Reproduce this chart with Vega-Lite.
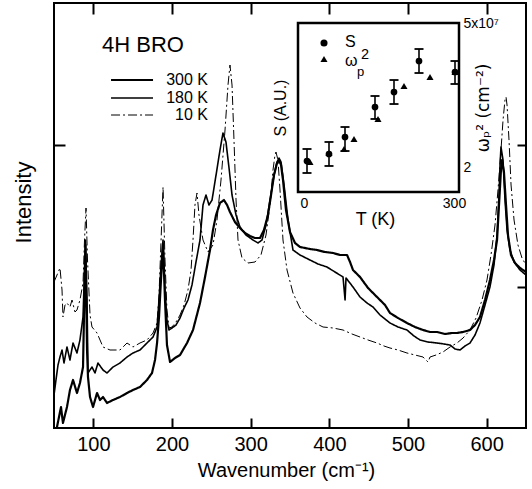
{
  "$schema": "https://vega.github.io/schema/vega-lite/v6.json",
  "width": 472,
  "height": 425,
  "autosize": {"type": "none"},
  "padding": {"left": 54, "top": 3, "right": 6, "bottom": 61},
  "background": "white",
  "config": {
    "view": {"stroke": "black", "strokeWidth": 2},
    "axis": {"domain": false, "grid": false, "tickColor": "black", "labelColor": "black", "titleColor": "black", "labelFont": "Liberation Sans", "titleFont": "Liberation Sans", "titleFontWeight": "normal", "labelOverlap": false, "labelFlush": false},
    "text": {"font": "Liberation Sans", "color": "black"}
  },
  "datasets": {
    "spectra": [
      {"series": "300 K", "w": 50, "I": -17}, {"series": "300 K", "w": 53.8, "I": 1}, {"series": "300 K", "w": 58.9, "I": 21}, {"series": "300 K", "w": 61.4, "I": 5}, {"series": "300 K", "w": 66.5, "I": 21}, {"series": "300 K", "w": 70.3, "I": 38}, {"series": "300 K", "w": 74.2, "I": 48}, {"series": "300 K", "w": 79.2, "I": 35}, {"series": "300 K", "w": 83, "I": 45}, {"series": "300 K", "w": 86.9, "I": 61}, {"series": "300 K", "w": 88.1, "I": 111}, {"series": "300 K", "w": 90, "I": 183}, {"series": "300 K", "w": 92, "I": 78}, {"series": "300 K", "w": 93.2, "I": 51}, {"series": "300 K", "w": 95.8, "I": 31}, {"series": "300 K", "w": 99.6, "I": 21}, {"series": "300 K", "w": 104.7, "I": 35}, {"series": "300 K", "w": 108.5, "I": 28}, {"series": "300 K", "w": 112.3, "I": 31}, {"series": "300 K", "w": 117.4, "I": 25}, {"series": "300 K", "w": 125, "I": 28}, {"series": "300 K", "w": 133.9, "I": 31}, {"series": "300 K", "w": 142.8, "I": 35}, {"series": "300 K", "w": 150.4, "I": 38}, {"series": "300 K", "w": 159.3, "I": 41}, {"series": "300 K", "w": 168.2, "I": 48}, {"series": "300 K", "w": 174.6, "I": 55}, {"series": "300 K", "w": 178.4, "I": 68}, {"series": "300 K", "w": 181, "I": 85}, {"series": "300 K", "w": 183.5, "I": 111}, {"series": "300 K", "w": 186, "I": 148}, {"series": "300 K", "w": 188.6, "I": 183}, {"series": "300 K", "w": 191.1, "I": 128}, {"series": "300 K", "w": 193.6, "I": 83}, {"series": "300 K", "w": 197.5, "I": 66}, {"series": "300 K", "w": 203.8, "I": 70}, {"series": "300 K", "w": 210.2, "I": 73}, {"series": "300 K", "w": 219.1, "I": 85}, {"series": "300 K", "w": 226.7, "I": 98}, {"series": "300 K", "w": 235.6, "I": 125}, {"series": "300 K", "w": 242, "I": 151}, {"series": "300 K", "w": 248.3, "I": 178}, {"series": "300 K", "w": 252.1, "I": 198}, {"series": "300 K", "w": 256, "I": 213}, {"series": "300 K", "w": 261, "I": 225}, {"series": "300 K", "w": 266, "I": 228}, {"series": "300 K", "w": 270, "I": 223}, {"series": "300 K", "w": 273.7, "I": 216}, {"series": "300 K", "w": 280, "I": 206}, {"series": "300 K", "w": 286.4, "I": 200}, {"series": "300 K", "w": 292.8, "I": 195}, {"series": "300 K", "w": 299.1, "I": 192}, {"series": "300 K", "w": 305.5, "I": 190}, {"series": "300 K", "w": 311.9, "I": 190}, {"series": "300 K", "w": 316.9, "I": 198}, {"series": "300 K", "w": 322, "I": 213}, {"series": "300 K", "w": 325.9, "I": 233}, {"series": "300 K", "w": 329.7, "I": 253}, {"series": "300 K", "w": 333.5, "I": 265}, {"series": "300 K", "w": 336, "I": 268}, {"series": "300 K", "w": 338.6, "I": 263}, {"series": "300 K", "w": 341.1, "I": 248}, {"series": "300 K", "w": 344.9, "I": 218}, {"series": "300 K", "w": 350, "I": 196}, {"series": "300 K", "w": 356.4, "I": 185}, {"series": "300 K", "w": 362.7, "I": 181}, {"series": "300 K", "w": 375.4, "I": 179}, {"series": "300 K", "w": 384.3, "I": 178}, {"series": "300 K", "w": 394.5, "I": 176}, {"series": "300 K", "w": 404.7, "I": 175}, {"series": "300 K", "w": 413.6, "I": 173}, {"series": "300 K", "w": 422.5, "I": 173}, {"series": "300 K", "w": 426.3, "I": 166}, {"series": "300 K", "w": 430.1, "I": 158}, {"series": "300 K", "w": 439, "I": 151}, {"series": "300 K", "w": 449.2, "I": 140}, {"series": "300 K", "w": 460.6, "I": 131}, {"series": "300 K", "w": 470.8, "I": 123}, {"series": "300 K", "w": 477.1, "I": 115}, {"series": "300 K", "w": 487.3, "I": 110}, {"series": "300 K", "w": 498.7, "I": 105}, {"series": "300 K", "w": 508.9, "I": 101}, {"series": "300 K", "w": 519.1, "I": 98}, {"series": "300 K", "w": 528, "I": 96}, {"series": "300 K", "w": 536.9, "I": 96}, {"series": "300 K", "w": 547, "I": 94}, {"series": "300 K", "w": 555.9, "I": 95}, {"series": "300 K", "w": 562.3, "I": 95}, {"series": "300 K", "w": 570, "I": 96}, {"series": "300 K", "w": 578.8, "I": 98}, {"series": "300 K", "w": 585.2, "I": 103}, {"series": "300 K", "w": 591.5, "I": 111}, {"series": "300 K", "w": 597.9, "I": 128}, {"series": "300 K", "w": 604.2, "I": 148}, {"series": "300 K", "w": 609.3, "I": 168}, {"series": "300 K", "w": 613.2, "I": 188}, {"series": "300 K", "w": 615.7, "I": 223}, {"series": "300 K", "w": 618.2, "I": 258}, {"series": "300 K", "w": 619.5, "I": 268}, {"series": "300 K", "w": 622, "I": 256}, {"series": "300 K", "w": 624.6, "I": 223}, {"series": "300 K", "w": 627.1, "I": 193}, {"series": "300 K", "w": 630.9, "I": 173}, {"series": "300 K", "w": 636, "I": 165}, {"series": "300 K", "w": 642.4, "I": 160}, {"series": "300 K", "w": 650, "I": 156},

      {"series": "180 K", "w": 50, "I": 33}, {"series": "180 K", "w": 52.5, "I": 48}, {"series": "180 K", "w": 55.1, "I": 63}, {"series": "180 K", "w": 57.6, "I": 71}, {"series": "180 K", "w": 60.2, "I": 78}, {"series": "180 K", "w": 62.7, "I": 65}, {"series": "180 K", "w": 66.5, "I": 81}, {"series": "180 K", "w": 70.3, "I": 68}, {"series": "180 K", "w": 74.2, "I": 85}, {"series": "180 K", "w": 79.2, "I": 75}, {"series": "180 K", "w": 83, "I": 88}, {"series": "180 K", "w": 86.9, "I": 111}, {"series": "180 K", "w": 88.8, "I": 158}, {"series": "180 K", "w": 90, "I": 188}, {"series": "180 K", "w": 92, "I": 128}, {"series": "180 K", "w": 93.2, "I": 55}, {"series": "180 K", "w": 98.3, "I": 61}, {"series": "180 K", "w": 102.1, "I": 55}, {"series": "180 K", "w": 105.9, "I": 65}, {"series": "180 K", "w": 112.3, "I": 58}, {"series": "180 K", "w": 117.4, "I": 55}, {"series": "180 K", "w": 125, "I": 61}, {"series": "180 K", "w": 133.9, "I": 65}, {"series": "180 K", "w": 142.8, "I": 71}, {"series": "180 K", "w": 150.4, "I": 75}, {"series": "180 K", "w": 159.3, "I": 78}, {"series": "180 K", "w": 168.2, "I": 85}, {"series": "180 K", "w": 175.9, "I": 91}, {"series": "180 K", "w": 181, "I": 101}, {"series": "180 K", "w": 183.5, "I": 128}, {"series": "180 K", "w": 186.1, "I": 163}, {"series": "180 K", "w": 188.6, "I": 188}, {"series": "180 K", "w": 191.1, "I": 138}, {"series": "180 K", "w": 193.6, "I": 108}, {"series": "180 K", "w": 196.2, "I": 98}, {"series": "180 K", "w": 200, "I": 100}, {"series": "180 K", "w": 205.1, "I": 103}, {"series": "180 K", "w": 210.2, "I": 110}, {"series": "180 K", "w": 215.3, "I": 120}, {"series": "180 K", "w": 220.3, "I": 128}, {"series": "180 K", "w": 225.4, "I": 143}, {"series": "180 K", "w": 230.5, "I": 166}, {"series": "180 K", "w": 235.6, "I": 188}, {"series": "180 K", "w": 239.4, "I": 223}, {"series": "180 K", "w": 243.2, "I": 233}, {"series": "180 K", "w": 247, "I": 223}, {"series": "180 K", "w": 250.9, "I": 228}, {"series": "180 K", "w": 256, "I": 253}, {"series": "180 K", "w": 261, "I": 278}, {"series": "180 K", "w": 264.8, "I": 295}, {"series": "180 K", "w": 268.6, "I": 286}, {"series": "180 K", "w": 272.5, "I": 260}, {"series": "180 K", "w": 276.3, "I": 233}, {"series": "180 K", "w": 281.4, "I": 213}, {"series": "180 K", "w": 286.4, "I": 201}, {"series": "180 K", "w": 294, "I": 193}, {"series": "180 K", "w": 303, "I": 188}, {"series": "180 K", "w": 309.3, "I": 185}, {"series": "180 K", "w": 314.4, "I": 188}, {"series": "180 K", "w": 319.5, "I": 203}, {"series": "180 K", "w": 324.6, "I": 228}, {"series": "180 K", "w": 329.7, "I": 253}, {"series": "180 K", "w": 333.5, "I": 266}, {"series": "180 K", "w": 336, "I": 270}, {"series": "180 K", "w": 338.6, "I": 266}, {"series": "180 K", "w": 342.4, "I": 243}, {"series": "180 K", "w": 347.5, "I": 208}, {"series": "180 K", "w": 353.8, "I": 178}, {"series": "180 K", "w": 362.7, "I": 173}, {"series": "180 K", "w": 375.4, "I": 168}, {"series": "180 K", "w": 385.6, "I": 164}, {"series": "180 K", "w": 397, "I": 161}, {"series": "180 K", "w": 407.2, "I": 156}, {"series": "180 K", "w": 417.4, "I": 151}, {"series": "180 K", "w": 420, "I": 128}, {"series": "180 K", "w": 421.2, "I": 150}, {"series": "180 K", "w": 430.1, "I": 141}, {"series": "180 K", "w": 439, "I": 131}, {"series": "180 K", "w": 447.9, "I": 125}, {"series": "180 K", "w": 455.5, "I": 121}, {"series": "180 K", "w": 464.4, "I": 113}, {"series": "180 K", "w": 477.1, "I": 105}, {"series": "180 K", "w": 487.3, "I": 101}, {"series": "180 K", "w": 498.7, "I": 98}, {"series": "180 K", "w": 507.6, "I": 92}, {"series": "180 K", "w": 515.3, "I": 88}, {"series": "180 K", "w": 525.4, "I": 86}, {"series": "180 K", "w": 536.9, "I": 85}, {"series": "180 K", "w": 545.8, "I": 84}, {"series": "180 K", "w": 553.4, "I": 83}, {"series": "180 K", "w": 559.8, "I": 79}, {"series": "180 K", "w": 566.1, "I": 78}, {"series": "180 K", "w": 572.5, "I": 82}, {"series": "180 K", "w": 578.8, "I": 85}, {"series": "180 K", "w": 585.2, "I": 93}, {"series": "180 K", "w": 591.5, "I": 105}, {"series": "180 K", "w": 597.9, "I": 123}, {"series": "180 K", "w": 604.2, "I": 141}, {"series": "180 K", "w": 609.3, "I": 163}, {"series": "180 K", "w": 613.2, "I": 193}, {"series": "180 K", "w": 615.7, "I": 233}, {"series": "180 K", "w": 617, "I": 263}, {"series": "180 K", "w": 618.2, "I": 281}, {"series": "180 K", "w": 620.8, "I": 268}, {"series": "180 K", "w": 623.3, "I": 228}, {"series": "180 K", "w": 625.9, "I": 198}, {"series": "180 K", "w": 629.7, "I": 178}, {"series": "180 K", "w": 634.8, "I": 166}, {"series": "180 K", "w": 642.4, "I": 158}, {"series": "180 K", "w": 650, "I": 153},

      {"series": "10 K", "w": 50, "I": 146}, {"series": "10 K", "w": 53.8, "I": 153}, {"series": "10 K", "w": 57.6, "I": 160}, {"series": "10 K", "w": 60.2, "I": 138}, {"series": "10 K", "w": 61.4, "I": 111}, {"series": "10 K", "w": 64, "I": 123}, {"series": "10 K", "w": 66.5, "I": 125}, {"series": "10 K", "w": 70.3, "I": 121}, {"series": "10 K", "w": 72.9, "I": 128}, {"series": "10 K", "w": 76.7, "I": 116}, {"series": "10 K", "w": 79.2, "I": 118}, {"series": "10 K", "w": 83, "I": 128}, {"series": "10 K", "w": 86.9, "I": 145}, {"series": "10 K", "w": 88.8, "I": 188}, {"series": "10 K", "w": 90.7, "I": 220}, {"series": "10 K", "w": 92.6, "I": 168}, {"series": "10 K", "w": 95.8, "I": 113}, {"series": "10 K", "w": 98.3, "I": 101}, {"series": "10 K", "w": 104.7, "I": 95}, {"series": "10 K", "w": 112.3, "I": 81}, {"series": "10 K", "w": 121.2, "I": 78}, {"series": "10 K", "w": 133.9, "I": 78}, {"series": "10 K", "w": 142.8, "I": 85}, {"series": "10 K", "w": 150.4, "I": 81}, {"series": "10 K", "w": 159.3, "I": 85}, {"series": "10 K", "w": 168.2, "I": 88}, {"series": "10 K", "w": 175.9, "I": 95}, {"series": "10 K", "w": 181, "I": 105}, {"series": "10 K", "w": 183.5, "I": 133}, {"series": "10 K", "w": 186.1, "I": 188}, {"series": "10 K", "w": 188.6, "I": 241}, {"series": "10 K", "w": 191.1, "I": 168}, {"series": "10 K", "w": 193.6, "I": 118}, {"series": "10 K", "w": 196.2, "I": 100}, {"series": "10 K", "w": 200, "I": 101}, {"series": "10 K", "w": 205.1, "I": 106}, {"series": "10 K", "w": 210.2, "I": 113}, {"series": "10 K", "w": 215.3, "I": 123}, {"series": "10 K", "w": 220.3, "I": 138}, {"series": "10 K", "w": 224.2, "I": 158}, {"series": "10 K", "w": 226.7, "I": 188}, {"series": "10 K", "w": 229.2, "I": 223}, {"series": "10 K", "w": 231.8, "I": 235}, {"series": "10 K", "w": 234.3, "I": 213}, {"series": "10 K", "w": 239.4, "I": 188}, {"series": "10 K", "w": 245.8, "I": 176}, {"series": "10 K", "w": 252.1, "I": 183}, {"series": "10 K", "w": 257.2, "I": 208}, {"series": "10 K", "w": 262.3, "I": 248}, {"series": "10 K", "w": 267.4, "I": 298}, {"series": "10 K", "w": 271.2, "I": 343}, {"series": "10 K", "w": 273.7, "I": 363}, {"series": "10 K", "w": 276.3, "I": 343}, {"series": "10 K", "w": 278.8, "I": 288}, {"series": "10 K", "w": 281.4, "I": 228}, {"series": "10 K", "w": 283.9, "I": 188}, {"series": "10 K", "w": 289, "I": 170}, {"series": "10 K", "w": 296.6, "I": 165}, {"series": "10 K", "w": 305.5, "I": 166}, {"series": "10 K", "w": 313.1, "I": 173}, {"series": "10 K", "w": 319.5, "I": 193}, {"series": "10 K", "w": 324.6, "I": 223}, {"series": "10 K", "w": 328.4, "I": 258}, {"series": "10 K", "w": 330.9, "I": 273}, {"series": "10 K", "w": 332.2, "I": 276}, {"series": "10 K", "w": 334.7, "I": 268}, {"series": "10 K", "w": 337.3, "I": 238}, {"series": "10 K", "w": 341.1, "I": 188}, {"series": "10 K", "w": 346.2, "I": 158}, {"series": "10 K", "w": 353.8, "I": 135}, {"series": "10 K", "w": 362.7, "I": 120}, {"series": "10 K", "w": 371.6, "I": 111}, {"series": "10 K", "w": 381.8, "I": 105}, {"series": "10 K", "w": 392, "I": 101}, {"series": "10 K", "w": 404.7, "I": 100}, {"series": "10 K", "w": 417.4, "I": 98}, {"series": "10 K", "w": 428.8, "I": 94}, {"series": "10 K", "w": 439, "I": 91}, {"series": "10 K", "w": 449.2, "I": 88}, {"series": "10 K", "w": 460.6, "I": 85}, {"series": "10 K", "w": 469.5, "I": 82}, {"series": "10 K", "w": 477.1, "I": 80}, {"series": "10 K", "w": 487.3, "I": 78}, {"series": "10 K", "w": 498.7, "I": 75}, {"series": "10 K", "w": 508.9, "I": 73}, {"series": "10 K", "w": 519.1, "I": 71}, {"series": "10 K", "w": 525.4, "I": 66}, {"series": "10 K", "w": 528, "I": 71}, {"series": "10 K", "w": 535.6, "I": 73}, {"series": "10 K", "w": 544.5, "I": 76}, {"series": "10 K", "w": 553.4, "I": 81}, {"series": "10 K", "w": 562.3, "I": 85}, {"series": "10 K", "w": 570, "I": 90}, {"series": "10 K", "w": 578.8, "I": 98}, {"series": "10 K", "w": 586.5, "I": 110}, {"series": "10 K", "w": 594.1, "I": 128}, {"series": "10 K", "w": 600.4, "I": 148}, {"series": "10 K", "w": 605.5, "I": 173}, {"series": "10 K", "w": 610.6, "I": 203}, {"series": "10 K", "w": 614.4, "I": 238}, {"series": "10 K", "w": 618.2, "I": 278}, {"series": "10 K", "w": 620.8, "I": 308}, {"series": "10 K", "w": 623.3, "I": 328}, {"series": "10 K", "w": 624.6, "I": 331}, {"series": "10 K", "w": 625.9, "I": 323}, {"series": "10 K", "w": 628.4, "I": 288}, {"series": "10 K", "w": 631, "I": 243}, {"series": "10 K", "w": 634.8, "I": 208}, {"series": "10 K", "w": 639.8, "I": 183}, {"series": "10 K", "w": 644.9, "I": 170}, {"series": "10 K", "w": 650, "I": 163}
    ],
    "legend": [
      {"series": "300 K", "x1": 122.5, "x2": 175.9, "xt": 245.8, "I": 348},
      {"series": "180 K", "x1": 122.5, "x2": 175.9, "xt": 245.8, "I": 330},
      {"series": "10 K", "x1": 122.5, "x2": 175.9, "xt": 245.8, "I": 313}
    ],
    "sdata": [
      {"T": 6, "S": 2.146, "lo": 1.896, "hi": 2.396},
      {"T": 50, "S": 2.292, "lo": 2.042, "hi": 2.542},
      {"T": 82, "S": 2.646, "lo": 2.354, "hi": 2.854},
      {"T": 142, "S": 3.271, "lo": 3.021, "hi": 3.5},
      {"T": 180, "S": 3.583, "lo": 3.333, "hi": 3.833},
      {"T": 230, "S": 4.229, "lo": 3.979, "hi": 4.479},
      {"T": 302, "S": 4.0, "lo": 3.75, "hi": 4.229}
    ],
    "wdata": [
      {"T": 12, "W": 2.125},
      {"T": 50, "W": 2.3125},
      {"T": 80, "W": 2.396},
      {"T": 100, "W": 2.604},
      {"T": 148, "W": 3.021},
      {"T": 200, "W": 3.708},
      {"T": 252, "W": 3.896},
      {"T": 302, "W": 4.0}
    ]
  },
  "layer": [
    {
      "layer": [
        {
          "data": {"name": "spectra"},
          "mark": {"type": "line", "clip": true, "strokeJoin": "round", "color": "black"},
          "encoding": {
            "x": {"field": "w", "type": "quantitative", "scale": {"domain": [50, 650], "nice": false, "zero": false},
              "axis": {"orient": "bottom", "values": [100, 200, 300, 400, 500, 600], "tickSize": -10, "tickWidth": 2, "labelPadding": 16, "labelFontSize": 20, "title": "Wavenumber (cm⁻¹)", "titleFontSize": 20, "titleX": 232, "titleY": 42, "titleBaseline": "middle"}},
            "y": {"field": "I", "type": "quantitative", "scale": {"domain": [0, 425], "nice": false, "zero": false},
              "axis": {"orient": "left", "values": [283], "labels": false, "tickSize": -11, "tickWidth": 2, "title": "Intensity", "titleFontSize": 22, "titleX": -31, "titleY": 199, "titleBaseline": "middle"}},
            "detail": {"field": "series"},
            "strokeDash": {"field": "series", "type": "nominal", "scale": {"domain": ["300 K", "180 K", "10 K"], "range": [[1, 0], [1, 0], [9, 3, 2, 3]]}, "legend": null},
            "strokeWidth": {"field": "series", "type": "ordinal", "scale": {"domain": ["300 K", "180 K", "10 K"], "range": [2.2, 1, 1.6]}, "legend": null}
          }
        },
        {
          "data": {"name": "legend"},
          "mark": {"type": "rule", "color": "black"},
          "encoding": {
            "x": {"field": "x1", "type": "quantitative", "scale": {"domain": [50, 650], "nice": false, "zero": false},
              "axis": {"orient": "top", "values": [100, 200, 300, 400, 500, 600], "tickSize": -11, "tickWidth": 2, "labels": false, "title": null}},
            "x2": {"field": "x2"},
            "y": {"field": "I", "type": "quantitative", "scale": {"domain": [0, 425], "nice": false, "zero": false},
              "axis": {"orient": "right", "values": [141, 283], "labels": false, "tickSize": -9, "tickWidth": 2, "title": null}},
            "strokeDash": {"field": "series", "type": "nominal", "scale": {"domain": ["300 K", "180 K", "10 K"], "range": [[1, 0], [1, 0], [9, 3, 2, 3]]}, "legend": null},
            "strokeWidth": {"field": "series", "type": "ordinal", "scale": {"domain": ["300 K", "180 K", "10 K"], "range": [2.2, 1, 1.6]}, "legend": null}
          }
        },
        {
          "data": {"name": "legend"},
          "mark": {"type": "text", "align": "right", "baseline": "middle", "fontSize": 16},
          "encoding": {
            "x": {"field": "xt", "type": "quantitative", "scale": {"domain": [50, 650], "nice": false, "zero": false}, "axis": null},
            "y": {"field": "I", "type": "quantitative", "scale": {"domain": [0, 425], "nice": false, "zero": false}, "axis": null},
            "text": {"field": "series"}
          }
        },
        {
          "data": {"values": [{"label": "4H  BRO", "w": 111, "I": 383}]},
          "mark": {"type": "text", "align": "left", "baseline": "middle", "fontSize": 22},
          "encoding": {
            "x": {"field": "w", "type": "quantitative", "scale": {"domain": [50, 650], "nice": false, "zero": false}, "axis": null},
            "y": {"field": "I", "type": "quantitative", "scale": {"domain": [0, 425], "nice": false, "zero": false}, "axis": null},
            "text": {"field": "label"}
          }
        }
      ],
      "resolve": {"axis": {"x": "independent", "y": "independent"}}
    },
    {
      "layer": [
        {
          "data": {"values": [{"T0": -12, "T1": 310, "v0": 1.5, "v1": 5.02}]},
          "mark": {"type": "rect", "fill": "white", "stroke": "black", "strokeWidth": 2.5},
          "encoding": {
            "x": {"field": "T0", "type": "quantitative", "scale": {"domain": [-500, 444], "nice": false, "zero": false},
              "axis": {"orient": "bottom", "offset": -236, "values": [0, 100, 200, 300], "labelExpr": "datum.value == 0 || datum.value == 300 ? datum.label : ''", "tickSize": -7, "tickWidth": 2, "labelPadding": 11, "labelFontSize": 14, "title": "T (K)", "titleFontSize": 18, "titleX": 321, "titleY": 27, "titleBaseline": "middle"}},
            "x2": {"field": "T1"},
            "y": {"field": "v0", "type": "quantitative", "scale": {"domain": [-3.4167, 5.4375], "nice": false, "zero": false},
              "axis": {"orient": "left", "offset": -244, "values": [1.833, 3.4375], "labels": false, "tickSize": -10, "tickWidth": 2, "title": "S (A.U.)", "titleFontSize": 16, "titleX": -18, "titleY": 104.5, "titleBaseline": "middle"}},
            "y2": {"field": "v1"}
          }
        },
        {
          "data": {"name": "sdata"},
          "mark": {"type": "rule", "color": "black", "strokeWidth": 1.6},
          "encoding": {
            "x": {"field": "T", "type": "quantitative", "scale": {"domain": [-500, 444], "nice": false, "zero": false}, "axis": null},
            "y": {"field": "lo", "type": "quantitative", "scale": {"domain": [-3.4167, 5.4375], "nice": false, "zero": false}, "axis": null},
            "y2": {"field": "hi"}
          }
        },
        {
          "data": {"name": "sdata"},
          "mark": {"type": "tick", "orient": "horizontal", "color": "black", "size": 9, "thickness": 1.8, "opacity": 1},
          "encoding": {
            "x": {"field": "T", "type": "quantitative", "scale": {"domain": [-500, 444], "nice": false, "zero": false}, "axis": null},
            "y": {"field": "lo", "type": "quantitative", "scale": {"domain": [-3.4167, 5.4375], "nice": false, "zero": false}, "axis": null}
          }
        },
        {
          "data": {"name": "sdata"},
          "mark": {"type": "tick", "orient": "horizontal", "color": "black", "size": 9, "thickness": 1.8, "opacity": 1},
          "encoding": {
            "x": {"field": "T", "type": "quantitative", "scale": {"domain": [-500, 444], "nice": false, "zero": false}, "axis": null},
            "y": {"field": "hi", "type": "quantitative", "scale": {"domain": [-3.4167, 5.4375], "nice": false, "zero": false}, "axis": null}
          }
        },
        {
          "data": {"name": "sdata"},
          "mark": {"type": "point", "shape": "circle", "filled": true, "color": "black", "size": 45, "opacity": 1},
          "encoding": {
            "x": {"field": "T", "type": "quantitative", "scale": {"domain": [-500, 444], "nice": false, "zero": false},
              "axis": {"orient": "top", "offset": -20, "values": [0, 100, 200, 300], "labels": false, "tickSize": -7, "tickWidth": 2, "title": null}},
            "y": {"field": "S", "type": "quantitative", "scale": {"domain": [-3.4167, 5.4375], "nice": false, "zero": false},
              "axis": {"orient": "right", "offset": -67, "values": [2, 3, 5], "labelExpr": "datum.value == 5 ? '5x10⁷' : (datum.value == 2 ? '2' : '')", "labelAlign": "left", "tickSize": -9, "tickWidth": 2, "labelPadding": 13, "labelFontSize": 14, "title": "ωₚ² (cm⁻²)", "titleFont": "DejaVu Sans", "titleFontSize": 17, "titleAngle": -90, "titleX": 24, "titleY": 104.5, "titleBaseline": "middle"}}
          }
        },
        {
          "data": {"name": "wdata"},
          "mark": {"type": "point", "shape": "triangle-up", "filled": true, "color": "black", "size": 50, "opacity": 1},
          "encoding": {
            "x": {"field": "T", "type": "quantitative", "scale": {"domain": [-500, 444], "nice": false, "zero": false}, "axis": null},
            "y": {"field": "W", "type": "quantitative", "scale": {"domain": [-3.4167, 5.4375], "nice": false, "zero": false}, "axis": null}
          }
        },
        {
          "data": {"values": [{"sym": "circle", "T": 40, "v": 4.604}, {"sym": "triangle-up", "T": 40, "v": 4.271}]},
          "mark": {"type": "point", "filled": true, "color": "black", "size": 50, "opacity": 1},
          "encoding": {
            "x": {"field": "T", "type": "quantitative", "scale": {"domain": [-500, 444], "nice": false, "zero": false}, "axis": null},
            "y": {"field": "v", "type": "quantitative", "scale": {"domain": [-3.4167, 5.4375], "nice": false, "zero": false}, "axis": null},
            "shape": {"field": "sym", "type": "nominal", "scale": {"domain": ["circle", "triangle-up"], "range": ["circle", "triangle-up"]}, "legend": null}
          }
        },
        {
          "data": {"values": [{"txt": "S", "T": 82, "v": 4.625, "fs": "big"}, {"txt": "ω", "T": 82, "v": 4.229, "fs": "big"}, {"txt": "p", "T": 106, "v": 4.0, "fs": "small"}, {"txt": "2", "T": 114, "v": 4.35, "fs": "mid"}]},
          "mark": {"type": "text", "align": "left", "baseline": "middle"},
          "encoding": {
            "x": {"field": "T", "type": "quantitative", "scale": {"domain": [-500, 444], "nice": false, "zero": false}, "axis": null},
            "y": {"field": "v", "type": "quantitative", "scale": {"domain": [-3.4167, 5.4375], "nice": false, "zero": false}, "axis": null},
            "text": {"field": "txt"},
            "size": {"field": "fs", "type": "nominal", "scale": {"domain": ["big", "mid", "small"], "range": [16, 13, 11]}, "legend": null}
          }
        }
      ],
      "resolve": {"axis": {"x": "independent", "y": "independent"}}
    }
  ],
  "resolve": {"scale": {"x": "independent", "y": "independent"}, "axis": {"x": "independent", "y": "independent"}}
}
